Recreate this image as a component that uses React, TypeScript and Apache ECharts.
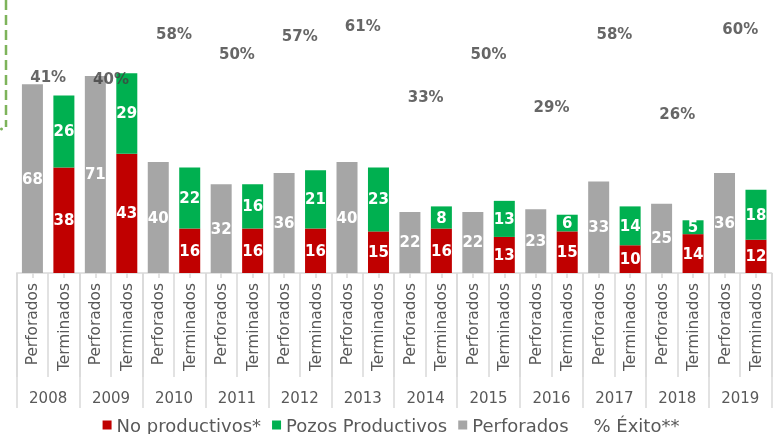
import React, { useEffect, useRef } from "react";
import * as echarts from "echarts";

const years = ["2008", "2009", "2010", "2011", "2012", "2013", "2014", "2015", "2016", "2017", "2018", "2019"];
const subCategories = ["Perforados", "Terminados"];
const perforados = [68, 71, 40, 32, 36, 40, 22, 22, 23, 33, 25, 36];
const noProductivos = [38, 43, 16, 16, 16, 15, 16, 13, 15, 10, 14, 12];
const productivos = [26, 29, 22, 16, 21, 23, 8, 13, 6, 14, 5, 18];
const exito = [41, 40, 58, 50, 57, 61, 33, 50, 29, 58, 26, 60];

const RED = "#c00000";
const GREEN = "#00b050";
const GRAY = "#a6a6a6";
const TEXT = "#595959";
const LINE = "#d9d9d9";
const FONT = "DejaVu Sans";

export default function App() {
  const ref = useRef<HTMLDivElement>(null);
  useEffect(() => {
    if (!ref.current) return;
    const chart = echarts.init(ref.current, null, { renderer: "svg" });

    const categories: string[] = [];
    years.forEach((y) => subCategories.forEach((s) => categories.push(y + "|" + s)));

    const perfData: any[] = [];
    const noProdData: any[] = [];
    const prodData: any[] = [];
    years.forEach((_, i) => {
      perfData.push(perforados[i], "-");
      noProdData.push("-", noProductivos[i]);
      prodData.push("-", productivos[i]);
    });

    const barLabel = {
      show: true,
      position: "inside" as const,
      color: "#ffffff",
      fontFamily: FONT,
      fontWeight: "bold" as const,
      fontSize: 15,
    };

    const gridLeft = 16.7;
    const gridRight = 10.3;
    const gridBottom = 161;

    chart.setOption({
      animation: false,
      grid: [
        { left: gridLeft, right: gridRight, top: 51, bottom: gridBottom },
        { left: gridLeft, right: gridRight, top: 0, bottom: gridBottom },
      ],
      legend: {
        top: 416,
        left: "center",
        padding: 0,
        itemWidth: 9,
        itemHeight: 9,
        itemGap: 11,
        textStyle: { color: TEXT, fontFamily: FONT, fontSize: 18 },
        data: [
          { name: "No productivos*", icon: "rect" },
          { name: "Pozos Productivos", icon: "rect" },
          { name: "Perforados", icon: "rect" },
          { name: "% Éxito**", icon: "rect", itemStyle: { color: "rgba(0,0,0,0)" } },
        ],
      },
      xAxis: [
        {
          gridIndex: 0,
          type: "category",
          data: categories,
          position: "bottom",
          axisLine: { show: true, onZero: false, lineStyle: { color: LINE, width: 1.5 } },
          axisTick: { show: true, interval: 0, length: 104, lineStyle: { color: LINE, width: 1.5 } },
          axisLabel: {
            interval: 0,
            rotate: 90,
            margin: 10,
            color: TEXT,
            fontFamily: FONT,
            fontSize: 15.4,
            formatter: (v: string) => v.split("|")[1],
          },
        },
        {
          gridIndex: 0,
          type: "category",
          data: categories,
          position: "bottom",
          axisLine: { show: false, onZero: false },
          axisTick: { show: true, interval: 0, alignWithLabel: true, length: 5, lineStyle: { color: LINE, width: 1.5 } },
          axisLabel: { show: false },
        },
        {
          gridIndex: 1,
          type: "category",
          data: years,
          position: "bottom",
          axisLine: { show: false, onZero: false },
          axisTick: { show: true, interval: 0, length: 135, lineStyle: { color: LINE, width: 1.5 } },
          axisLabel: {
            interval: 0,
            margin: 117,
            color: TEXT,
            fontFamily: FONT,
            fontSize: 15,
          },
        },
      ],
      yAxis: [
        { gridIndex: 0, type: "value", min: 0, max: 80, show: false },
        { gridIndex: 1, type: "value", min: -37, max: 71.4, show: false },
      ],
      series: [
        {
          name: "No productivos*",
          type: "bar",
          stack: "a",
          xAxisIndex: 0,
          yAxisIndex: 0,
          barWidth: 21,
          data: noProdData,
          itemStyle: { color: RED },
          label: barLabel,
        },
        {
          name: "Pozos Productivos",
          type: "bar",
          stack: "a",
          xAxisIndex: 0,
          yAxisIndex: 0,
          barWidth: 21,
          data: prodData,
          itemStyle: { color: GREEN },
          label: barLabel,
        },
        {
          name: "Perforados",
          type: "bar",
          stack: "a",
          xAxisIndex: 0,
          yAxisIndex: 0,
          barWidth: 21,
          data: perfData,
          itemStyle: { color: GRAY },
          label: barLabel,
        },
        {
          name: "% Éxito**",
          type: "scatter",
          xAxisIndex: 2,
          yAxisIndex: 1,
          data: exito,
          symbolSize: 1,
          itemStyle: { color: "rgba(0,0,0,0)" },
          label: {
            show: true,
            position: "inside",
            formatter: (p: any) => p.value + "%",
            color: "#404040",
            fontFamily: FONT,
            fontWeight: "bold",
            fontSize: 15,
          },
        },
      ],
      graphic: [
        {
          type: "line",
          shape: { x1: 6, y1: 0, x2: 6, y2: 127 },
          style: { stroke: "#7db35a", lineWidth: 2.5, lineDash: [10, 5] },
        },
        {
          type: "circle",
          shape: { cx: 1.5, cy: 129, r: 1.5 },
          style: { fill: "#7db35a" },
        },
      ],
    });
    return () => chart.dispose();
  }, []);
  return <div ref={ref} style={{ position: "fixed", left: 0, top: 0, width: 782, height: 434 }} />;
}
